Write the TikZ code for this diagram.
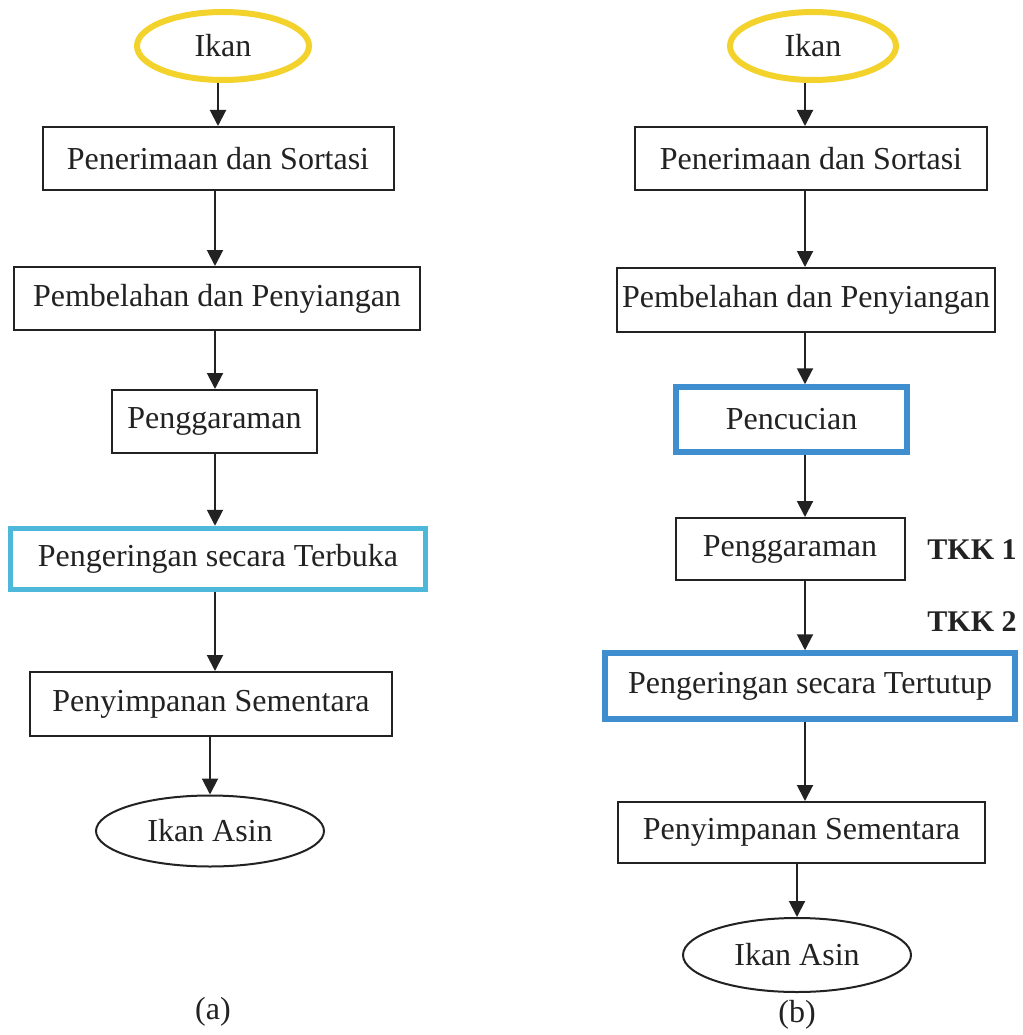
\documentclass[tikz,border=0pt]{standalone}
\usepackage{fontspec}
\setmainfont{Liberation Serif}
\usetikzlibrary{arrows.meta,shapes.geometric}
\definecolor{ikanyellow}{HTML}{F3D22B}
\definecolor{lightblue}{HTML}{4DB8DA}
\definecolor{midblue}{HTML}{3F8FD0}
\definecolor{ink}{HTML}{222222}
\begin{document}
\begin{tikzpicture}[x=1pt,y=-1pt,
  txt/.style={font=\fontsize{32}{36}\selectfont,text=ink},
  box/.style={txt,draw=ink,line width=2pt,rectangle,inner sep=0pt},
  bluebox/.style={box,draw=lightblue,line width=5.5pt},
  bluebox2/.style={box,draw=midblue,line width=5.5pt},
  startell/.style={txt,ellipse,draw=ikanyellow,line width=6pt,inner sep=0pt},
  endell/.style={txt,ellipse,draw=ink,line width=2pt,inner sep=0pt},
  tkk/.style={font=\fontsize{30}{34}\selectfont\bfseries,text=ink},
  arr/.style={draw=ink,line width=2pt,-{Triangle[width=16pt,length=16pt]}}]
\useasboundingbox (0,0) rectangle (1022,1035);
\fill[white] (0,0) rectangle (1022,1035);
% column axes
\coordinate (colA) at (215,0);
\coordinate (colB) at (805,0);
% left flowchart (a)
\node[startell,minimum width=172,minimum height=68] (ikanA) at (223,46) {Ikan};
\node[box,minimum width=351,minimum height=63] (a1) at (218,158.5) {Penerimaan dan Sortasi};
\node[box,minimum width=406,minimum height=63] (a2) at (217,298.5) {Pembelahan dan Penyiangan};
\node[box,minimum width=205,minimum height=63] (a3) at (214.5,421.5) {Penggaraman};
\node[bluebox,minimum width=415,minimum height=61] (a4) at (218,559) {Pengeringan secara Terbuka};
\node[box,minimum width=362,minimum height=64] (a5) at (211,704) {Penyimpanan Sementara};
\node[endell,minimum width=228,minimum height=71] (endA) at (210,831) {Ikan Asin};
\node[txt] (labA) at (213,1012) {(a)};
\draw[arr] (ikanA.south -| a1.north) -- (a1.north);
\draw[arr] (a1.south -| colA) -- (a2.north -| colA);
\draw[arr] (a2.south -| colA) -- (a3.north -| colA);
\draw[arr] (a3.south -| colA) -- (a4.north -| colA);
\draw[arr] (a4.south -| colA) -- (a5.north -| colA);
\draw[arr] (a5.south -| endA.north) -- (endA.north);
% right flowchart (b)
\node[startell,minimum width=166,minimum height=68] (ikanB) at (813,46) {Ikan};
\node[box,minimum width=352,minimum height=63] (b1) at (811,158.5) {Penerimaan dan Sortasi};
\node[box,minimum width=378,minimum height=64] (b2) at (806,300) {Pembelahan dan Penyiangan};
\node[bluebox2,minimum width=231,minimum height=65] (b3) at (791.5,419.5) {Pencucian};
\node[box,minimum width=229,minimum height=62] (b4) at (790,549) {Penggaraman};
\node[tkk] (tkk1) at (972,550) {TKK 1};
\node[tkk] (tkk2) at (972,622) {TKK 2};
\node[bluebox2,minimum width=410,minimum height=66] (b5) at (810,686) {Pengeringan secara Tertutup};
\node[box,minimum width=367,minimum height=61] (b6) at (801.5,832.5) {Penyimpanan Sementara};
\node[endell,minimum width=228,minimum height=74] (endB) at (797,955) {Ikan Asin};
\node[txt] (labB) at (797,1015) {(b)};
\draw[arr] (ikanB.south -| colB) -- (b1.north -| colB);
\draw[arr] (b1.south -| colB) -- (b2.north -| colB);
\draw[arr] (b2.south -| colB) -- (b3.north -| colB);
\draw[arr] (b3.south -| colB) -- (b4.north -| colB);
\draw[arr] (b4.south -| colB) -- (b5.north -| colB);
\draw[arr] (b5.south -| colB) -- (b6.north -| colB);
\draw[arr] (b6.south -| endB.north) -- (endB.north);
\end{tikzpicture}
\end{document}
